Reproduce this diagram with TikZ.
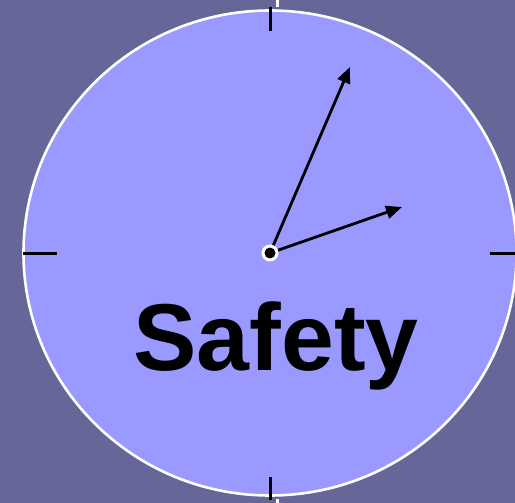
\documentclass[tikz,border=0pt]{standalone}
\usepackage{fontspec}
\setmainfont{Liberation Sans}
\usetikzlibrary{arrows.meta}
\definecolor{bgc}{RGB}{102,102,153}
\definecolor{facec}{RGB}{153,153,255}
\begin{document}
\begin{tikzpicture}[x=1pt,y=-1pt,
  tick/.style={black,line width=3pt},
  hand/.style={black,line width=2.8pt,-{Triangle[length=16pt,width=13pt]}}]
\fill[bgc] (0,0) rectangle (515,503);
\useasboundingbox (0,0) rectangle (515,503);
\fill[facec,draw=white,line width=2.6pt] (270,253) ellipse [x radius=246.5, y radius=242.5];
\draw[white,line width=2.2pt] (277.5,0) -- (277.5,7);
\draw[white,line width=2.2pt] (277.5,499) -- (277.5,503);
\coordinate (c) at (270,253);
\coordinate (t1) at (350,67);
\coordinate (t2) at (402,207);
\draw[tick] (270,7) -- (270,31);
\draw[tick] (270,477) -- (270,500);
\draw[tick] (23,253) -- (57,253);
\draw[tick] (490,253) -- (515,253);
\draw[hand] (c) -- (t1);
\draw[hand] (c) -- (t2);
\fill[white] (c) circle (8.5);
\fill[black] (c) circle (5.5);
\node[font=\bfseries\fontsize{95}{95}\selectfont, anchor=base, inner sep=0] (lbl) at (276,370) {Safety};
\end{tikzpicture}
\end{document}
